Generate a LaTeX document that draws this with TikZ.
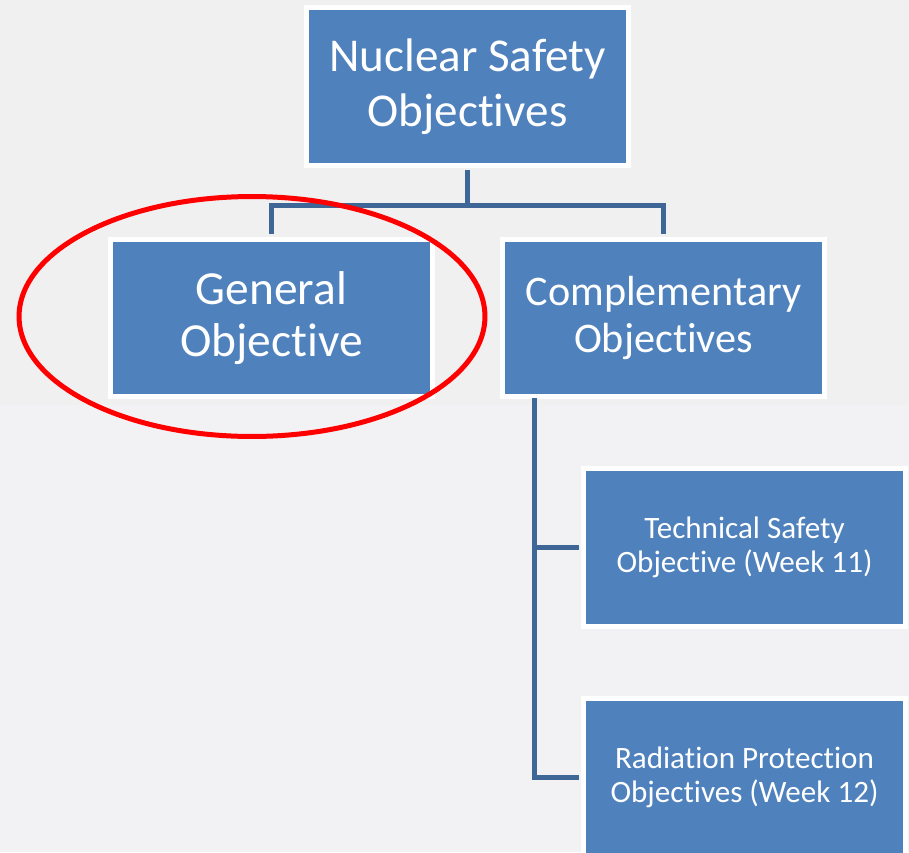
\documentclass[tikz,border=0pt]{standalone}
\usepackage{fontspec}
\setmainfont{Carlito}[Ligatures=NoCommon]
\definecolor{boxblue}{RGB}{79,129,189}
\definecolor{lineblue}{RGB}{62,103,151}
\definecolor{bgtop}{RGB}{240,240,240}
\definecolor{bgbottom}{RGB}{242,242,244}

\begin{document}
\begin{tikzpicture}[x=0.02cm,y=-0.02cm,
	objbox/.style={draw=white, line width=0.1cm, fill=boxblue, text=white, align=center,
		minimum width=6.44cm, minimum height=3.16cm, inner sep=0pt},
	conn/.style={lineblue, line width=0.1cm}]
	\useasboundingbox (0,0) rectangle (909,852);
	\clip (0,0) rectangle (909,852);
	\fill[bgtop] (0,0) rectangle (909,405);
	\fill[bgbottom] (0,405) rectangle (909,852);
	\node[objbox, font=\fontsize{26.8}{31}\selectfont] (nso) at (467.5,86.5) {Nuclear Safety\\Objectives};
	\node[objbox, font=\fontsize{27}{30}\selectfont] (gen) at (271.5,318) {General\\Objective};
	\node[objbox, font=\fontsize{24}{27}\selectfont] (comp) at (663.5,318) {Complementary\\Objectives};
	\node[objbox, font=\fontsize{17.7}{19.5}\selectfont] (tech) at (744.5,547.5) {Technical Safety\\Objective (Week 11)};
	\node[objbox, font=\fontsize{17.7}{19.5}\selectfont] (rad) at (744.5,777) {Radiation Protection\\Objectives (Week 12)};
	\coordinate (fork) at (467.5,205);
	\coordinate (trunk) at (534,398);
	\draw[conn, shorten <=0.05cm] (nso.south) -- (fork);
	\draw[conn, shorten >=0.05cm] (fork) -| (gen.north);
	\draw[conn, shorten >=0.05cm] (fork) -| (comp.north);
	\foreach \n in {tech,rad}
		\draw[conn, shorten >=0.05cm] (trunk) |- (\n.west);
	\draw[red, line width=0.1cm] (252,316.5) ellipse [x radius=4.66cm, y radius=2.4cm];
\end{tikzpicture}
\end{document}
